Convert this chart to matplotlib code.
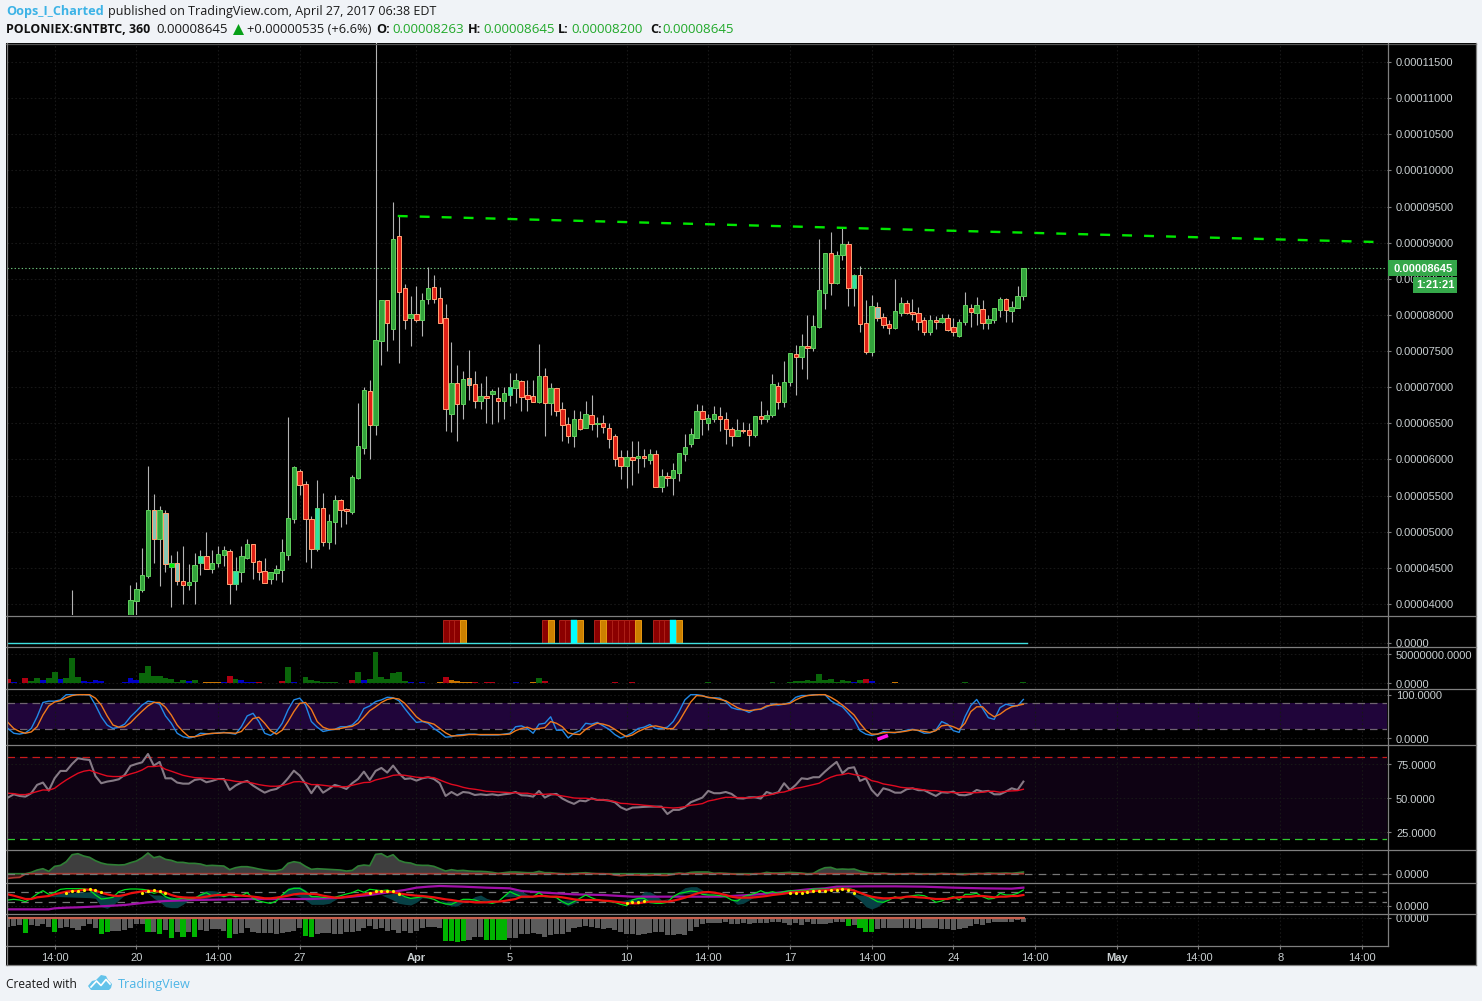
import numpy as np
import matplotlib
matplotlib.use("Agg")
import matplotlib.pyplot as plt
from matplotlib.lines import Line2D
from matplotlib.patches import Rectangle, Polygon
from matplotlib.transforms import Affine2D, ScaledTranslation

W, H = 1482, 1001
plt.rcParams['font.family'] = ['Liberation Sans', 'DejaVu Sans']

# ---------- candles (prices in 1e-8 BTC), first bar is index -11 ----------
candle_first = -11
high = [4190] + [3800]*9 + [4263] + [
 4308,4771,5910,5522,5356,5301,4678,4733,4802,4553,
 4701,4747,4996,4747,4802,4802,4761,4650,4802,4895,
 4826,4609,4632,4443,4540,4895,6583,5910,5868,5702,
 5218,5716,5536,5245,5508,5453,5324,5785,6777,7007,
 7100,11800,8207,8207,9563,9369,8424,8258,8400,8308,
 8659,8553,8382,8151,7621,7307,7220,7515,7220,7062,
 7155,6971,6998,6998,7196,7196,7095,7100,7100,7598,
 7262,7058,6985,6795,6588,6684,6671,6809,6892,6588,
 6615,6500,6352,6131,6131,6255,6255,6145,6145,6131,
 5868,5830,5951,6089,6352,6431,6763,6754,6629,6740,
 6726,6653,6445,6556,6514,6500,6597,6809,6680,7183,
 7072,7362,7473,7584,7736,8000,8000,9051,8857,9148,
 8885,9203,9023,8566,8677,8207,8276,8179,8027,7930,
 8497,8248,8207,8220,8110,7971,7999,7985,8013,8013,
 7958,7944,8317,8151,8248,8207,7999,8096,8248,8234,
 8193,8400,8645]
body_top = [3800] + [3700]*9 + [4055] + [
 4203,4397,5296,5296,5296,5255,4563,4563,4322,4304,
 4535,4660,4660,4563,4688,4743,4729,4452,4660,4826,
 4826,4591,4452,4438,4480,4715,5186,5891,5836,5656,
 5172,5324,5324,5144,5435,5435,5310,5753,6182,6957,
 6943,7649,8202,8202,9047,9088,8368,8009,8009,8202,
 8368,8382,8230,7953,7054,7054,7109,7123,7040,6874,
 6878,6943,6846,6916,6998,7095,7081,6888,6874,7151,
 7151,6985,6985,6694,6487,6556,6556,6625,6611,6500,
 6500,6431,6320,6030,6030,6030,6044,6044,6071,6071,
 5767,5767,5850,6085,6168,6348,6666,6666,6570,6625,
 6597,6556,6417,6404,6408,6404,6597,6597,6611,7040,
 7017,7072,7473,7459,7570,7570,7847,8345,8853,8857,
 8825,8981,8981,8553,8553,7888,8123,8110,7971,7874,
 8054,8165,8165,8040,8027,7930,7930,7930,7958,7958,
 7833,7902,8137,8096,8137,8082,7944,8096,8220,8220,
 8110,8262,8645]
body_bottom = [3650] + [3600]*9 + [3800] + [
 4045,4198,4392,4904,4904,4557,4516,4322,4267,4267,
 4322,4571,4488,4488,4571,4682,4281,4281,4447,4641,
 4585,4447,4295,4350,4433,4475,4682,5180,5651,5172,
 4765,4765,4862,4862,5139,5305,5283,5277,5748,6163,
 6481,6481,7643,7892,7809,8321,7926,7962,7926,7926,
 8225,8225,7892,6694,6625,6772,6772,7035,6813,6813,
 6855,6910,6813,6813,6896,6993,6868,6841,6799,6799,
 6785,6785,6675,6481,6329,6329,6426,6440,6495,6491,
 6453,6287,6010,5914,5914,5997,6024,6024,5997,5623,
 5623,5748,5748,5817,6080,6218,6301,6556,6500,6556,
 6556,6417,6329,6329,6394,6343,6343,6556,6556,6611,
 6795,6795,7072,7418,7418,7542,7542,7833,8303,8442,
 8442,8829,8373,8373,7875,7487,7487,7958,7861,7823,
 7819,8027,8027,8013,7902,7764,7764,7902,7902,7791,
 7764,7708,7902,8041,8027,7888,7888,7930,8068,8068,
 8054,8096,8263]
low = [3600] + [3500]*9 + [3750] + [
 3800,4170,4364,4571,4253,4447,3963,4263,4000,4194,
 4000,4401,4480,4433,4516,4526,4000,4194,4308,4627,
 4346,4332,4290,4277,4332,4308,4609,5125,5508,4581,
 4502,4737,4806,4765,4834,5070,5107,5245,5734,6075,
 6010,6338,7307,7505,7653,7331,7809,7574,7906,7713,
 8155,8169,7885,6398,6384,6260,6564,6823,6716,6702,
 6509,6495,6523,6564,6744,6785,6675,6675,6790,6785,
 6329,6619,6606,6260,6232,6177,6408,6435,6408,6315,
 6370,6163,5914,5734,5609,5651,5817,5900,5937,5615,
 5554,5633,5512,5706,5979,6176,6293,6338,6408,6523,
 6398,6218,6190,6325,6362,6190,6315,6487,6523,6583,
 6698,6726,7017,6892,7252,7113,7501,7819,8082,8276,
 8428,8760,8123,8123,7764,7459,7432,7916,7819,7736,
 7805,7985,8013,7930,7791,7722,7722,7805,7888,7778,
 7708,7695,7861,7833,7861,7805,7805,7888,7971,7902,
 7902,8090,8200]
candle_style = ("ggggggggggg" "gggpgplprg" "gtrgggrtgg" "rrrgggggrr" "rtrggrrggg"
                "rggrgrrgrg" "grrrgrgprg" "rgrgtgrrrg" "rgrrrgrgrg" "rrrrgrgrgr"
                "grgggggrgg" "rrrgrrgrgg" "rggrgrgggr" "ggrtrrgprr" "ggrrrrgrgr"
                "rggrgrgggr" "ggg")
candle_face = {'g': '#33a33c', 'r': '#dd2016', 't': '#2fe0a2', 'p': '#86c4b4', 'l': '#00ee00'}
candle_edge = {'g': '#5fcc5c', 'r': '#ff9f72', 't': '#55cc70', 'p': '#ff9f72', 'l': '#44c850'}

price_ticks = list(range(4000, 12000, 500))
last_price = 8645
trend_bars = [44.8, 212.6]
trend_prices = [9369, 9009]

# ---------- x axis ----------
x_tick_bars = [-14, 0, 14, 28, 48, 64, 84, 98, 112, 126, 140, 154, 168, 182, 196, 210]
x_tick_labels = ['14:00', '20', '14:00', '27', 'Apr', '5', '10', '14:00', '17', '14:00',
                 '24', '14:00', 'May', '14:00', '8', '14:00']

# ---------- signal columns ----------
signal_red = [53, 54, 55, 70, 73, 74, 79, 81, 82, 83, 84, 85, 89, 90, 91]
signal_orange = [56, 71, 76, 80, 86, 93]
signal_cyan = [75, 92]

# ---------- volume (millions) bars -22..152 ----------
volume_m = [6.8,2.3,.6,9.1,4,9.1,5.7,9.1,19.3,6.8,9.1,43.2,10.8,4,2.3,5.7,4,.6,.6,.6,2.3,9.1,
 5.7,17.6,29.5,12.5,12.5,9.1,7.4,2.3,5.7,4,
 5.7,.6,2.3,2.3,2.3,2.3,12.5,7.4,5.7,2.3,
 2.3,2.3,.6,.6,.6,4,27.8,2.3,.6,10.8,
 5.7,4,2.3,2.3,2.3,.6,.6,5.7,19.3,5.7,
 7.4,53.4,10.8,7.4,17.6,19.3,4,2.3,.6,2.3,
 .6,.6,2.3,10.8,5.7,4,2.3,2.3,2.3,.6,
 2.3,2.3,.6,.6,.6,2.3,.6,.6,2.3,9.1,
 4,.6,.4,.6,.6,.6,.4,.6,.6,.6,
 .6,.4,2.3,.6,.6,2.3,.6,.6,.4,.6,
 .6,.4,.6,.6,.6,.6,.6,1.1,2.3,.6,
 .4,.6,.6,.6,.6,.4,.4,.6,.4,2.3,
 .6,.6,2.3,3.4,3.4,5.7,3.4,15.9,5.7,7.4,
 2.3,5.7,4,2.3,5.7,7.4,4,.6,.4,.6,
 2.3,.6,.4,.6,.6,.6,.6,.6,.4,.6,
 .6,.6,2.3,.6,.6,.6,.6,.6,.4,.6,
 .6,.6,2.3]
volume_kind = ("rbbrggbggbgggbbbbbbbbb" "bggggggggb" "gbooobrgbb" "brooorgbbg" "gggggbbrgb"
               "gggggggbbb" "bborooooro" "rrobobooog" "rboooooooo" "ooroorooor"
               "roobbbbggg" "bbggbborbg" "gggggggggg" "gggbgrbooo" "oooobboogo"
               "ooggbgggbg" "ggg")
volume_colors = {'g': '#0a660a', 'b': '#0000c8', 'r': '#b00012', 'o': '#c87400'}

# ---------- stochastic ----------
stoch_k = [22,11,9,12,22,49,82,85,85,88,100,100,100,100,99,76,49,30,22,25,32,49,62,76,85,83,78,51,34,11,3,0,3,11,10,10,12,13,11,9,26,51,57,38,11,6,15,34,65,88,92,76,38,25,15,18,20,26,26,30,43,68,74,84,88,94,93,86,68,51,36,38,34,22,13,2,3,7,8,9,9,7,7,7,7,9,11,26,
 28,22,11,32,34,49,18,18,0,11,17,34,32,36,28,20,8,0,5,12,22,25,31,22,22,25,38,61,88,100,100,98,93,93,92,84,70,66,65,59,66,66,72,78,76,78,82,94,98,98,100,100,100,86,78,72,57,42,17,9,6,9,15,13,12,15,18,20,17,11,12,18,38,32,17,13,49,75,89,68,47,43,70,78,75,74,89]
stoch_d = [36,22,15,11,14,26,53,74,83,86,93,98,100,100,100,92,76,51,30,25,26,35,49,62,74,82,82,71,53,30,15,3,3,6,9,11,11,12,12,11,15,30,45,48,34,17,9,18,38,61,80,82,66,38,25,20,20,22,25,27,34,48,63,72,82,89,92,90,80,65,49,39,36,32,22,12,5,5,6,8,8,8,8,8,8,8,9,17,
 22,25,20,22,24,38,34,26,12,9,8,20,28,34,32,28,20,11,3,7,15,21,26,28,25,21,22,38,61,83,98,97,94,92,89,86,78,70,65,63,65,67,74,76,78,78,80,88,94,98,99,100,100,94,86,76,65,53,34,18,9,9,12,13,13,14,16,19,18,15,13,17,28,30,26,20,34,61,72,72,58,49,55,65,72,75,78]
stoch_extreme_bars = [127, 128.8]
stoch_extreme_vals = [-3, 6]

# ---------- RSI ----------
rsi = [50.5,52.9,51.7,51.2,53.7,59.8,61.5,55.6,64.6,70,70,75.1,79.3,78.5,78,66.3,61,62.2,62.9,63.9,67.1,73.7,75.1,76.3,82.4,73.9,76.6,64.6,64.6,61.5,60.7,60.7,63.4,64.1,61.7,62.7,64.1,64.1,56.1,59.3,61.5,62.7,59.3,56.6,54.1,55.9,56.8,59.8,64.6,70.2,66.6,60.5,53.7,59.8,54.1,56.8,59.8,58.5,56.8,61,64.1,69.5,63.4,70,72.2,68.8,73.9,68.3,64.1,64.6,62.9,64.6,65.4,64.1,61,51.7,54.6,52.2,54.6,54.1,52.4,52.9,52.4,52.9,52.2,52.9,53.4,54.6,
 52.2,52,51.2,55.4,50.5,52.7,53.2,49.8,47.6,45.9,48.3,47.8,50,48.8,48.8,48.3,47.1,43.4,41.5,43.2,43.4,43.7,43.9,43.9,43.9,38.5,41.5,41.5,43.4,47.1,48.8,50.5,55.4,53.7,53.7,54.6,53.2,50,49.8,50.7,50.7,49.8,54.6,53.2,54.4,61,56.1,59.8,64.6,64.1,65.4,65.4,69.5,73.2,76.6,68.3,72,72.7,62.7,64.6,56.1,51.7,57.3,56.1,54.1,54.1,56.6,57.3,55.9,55.9,53.7,51.7,54.4,54.1,54.9,52.4,52.2,53.2,56.1,54.9,55.4,52.9,52.9,54.9,57.3,56.1,62.2]
rsi_ma = [53.7,53.4,52.7,52.7,53.7,54.9,56.1,55.9,57.3,60.5,63.4,65.9,68.3,69.8,70.5,69,67.6,66.3,65.9,65.9,66.3,67.8,69,70.7,73.2,73.2,73.7,71.2,69.8,68.3,66.8,65.9,65.1,64.9,64.6,64.4,63.9,63.7,63.2,62.4,62,62,61,60,59.3,58.8,58.8,59.3,60.5,62,62.2,61.5,60,60,59.5,59,58.5,58.5,58.5,59.5,60.5,61.5,61.7,63.4,64.4,65.4,66.8,67.1,66.8,66.1,65.4,65.1,65.4,65.1,63.4,61.7,60.2,59.3,58,57.1,56.6,55.9,55.1,54.9,54.6,54.4,54.1,54.1,
 53.7,53.7,52.9,52.9,52.9,53.2,52.4,51.7,51,50.2,50,50,49.5,48.8,48.8,48.3,47.6,46.3,46.1,45.6,45.4,44.9,44.6,43.9,43.4,43.2,42.9,43.2,43.9,44.9,45.4,46.1,48,48.8,49.8,50.7,50.7,50.5,50.5,50.2,50.7,51.5,52,52.9,54.1,54.6,55.9,57.3,58,59,60,61,63.4,65.4,66.8,67.3,68.3,67.3,66.6,65.4,62.9,62,60.5,59.8,59,58,57.6,57.3,56.8,56.1,55.6,55.6,54.9,54.6,54.1,54.1,54.4,54.1,54.1,54.4,55.1,55.1,54.4,55.1,55.4,55.6,56.6]

# ---------- momentum ----------
momentum = [-140,-120,-110,-10,40,110,150,70,220,250,360,570,600,530,490,390,320,280,270,260,270,330,
 380,480,620,480,520,430,400,340,340,310,
 310,290,240,250,240,230,120,180,210,210,
 180,140,110,90,90,130,310,360,330,220,
 130,150,140,130,120,110,80,100,230,260,
 240,580,600,500,570,400,340,320,260,250,
 250,220,150,80,120,90,100,80,70,70,
 60,40,10,30,50,50,40,30,30,70,
 30,30,10,0,-20,10,20,30,10,0,
 0,-10,-40,-60,-40,-40,-40,-50,-50,-40,
 -50,-50,-20,20,0,40,50,50,50,10,
 20,10,-10,-20,-20,-30,0,0,40,20,
 20,30,40,30,20,-20,10,110,180,190,
 130,140,130,140,80,40,20,10,20,0,
 -20,-10,0,10,-10,-20,-10,-20,10,0,
 -10,-20,-30,-10,10,0,20,10,10,20,
 10,30,50]

# ---------- oscillator pane ----------
osc_green = [17,19,17,12,22,35,45,34,40,49,51,51,51,51,47,32,20,22,25,42,48,50,
 50,49,47,37,42,27,20,20,22,20,
 22,32,39,29,35,27,32,27,30,39,
 22,14,10,7,14,32,47,52,52,42,
 27,27,25,25,25,30,35,39,47,40,
 49,47,45,47,42,37,27,22,24,27,
 24,19,10,5,4,12,19,19,17,12,
 10,7,12,27,42,34,27,27,27,39,
 27,27,24,12,4,12,22,32,24,17,
 14,12,10,4,0,17,22,22,10,7,
 7,10,27,37,40,44,42,34,32,32,
 30,27,17,14,27,32,37,45,37,42,
 37,42,45,44,46,45,50,50,50,49,
 52,52,52,47,37,32,22,12,10,17,
 27,20,27,30,32,30,22,10,14,22,
 27,17,34,34,37,27,20,22,37,32,
 32,37,47]
osc_red = [34,30,25,20,20,25,27,29,34,38,42,44,45,48,48,45,39,34,30,29,32,37,
 40,43,45,44,42,39,32,27,25,24,
 24,24,27,30,32,32,34,32,30,29,
 27,25,22,22,24,27,30,34,36,36,
 35,34,30,27,24,24,27,29,32,34,
 37,40,42,42,40,37,34,32,30,29,
 27,25,22,19,17,14,12,12,10,10,
 10,12,12,14,17,20,27,27,27,29,
 29,27,27,25,22,19,17,17,17,17,
 15,14,12,10,7,7,7,10,12,12,
 12,12,15,19,24,30,36,40,41,39,
 36,32,27,24,24,24,25,27,29,32,
 34,36,39,40,42,42,44,45,46,47,
 49,50,49,45,39,32,27,24,22,22,
 24,24,27,27,25,24,22,20,20,20,
 24,25,27,27,29,29,27,25,27,27,
 29,29,32]
purple_bars = [-22,-15,-14,-12,-10,-5,-2,2,5,10,20,30,35,40,44,46,48,50,52,56,60,64,66,70,75,80,85,90,95,100,105,110,115,118,120,125,130,135,140,145,150,152]
purple_vals = [-11,-11,-8,-6,-5,-1,2,10,14,17,20,20,24,32,42,47,54,57,59,57,54,52,44,39,34,32,27,27,27,27,32,39,49,52,57,58,58,57,54,52,51,54]
cloud_bars = [-15,-13,-8,-7,-6,-5,-4,-3,-2,2,3,4,5,6,7,8,9,10,11,12,13,14,15,25,26,27,28,29,30,31,32,33,34,35,42,44,45,46,47,48,49,52,53,54,55,56,57,58,59,60,61,62,63,64,65,66,67,68,72,73,74,75,76,82,85,86,87,88,89,90,92,93,94,95,96,97,98,102,103,104,105,106,108,122,124,125,126,127,128,129]
cloud_top = [27,37,42,42,32,27,27,32,32,37,32,32,27,27,22,22,22,27,37,45,45,42,27,32,54,57,57,47,32,27,25,27,27,27,32,37,37,27,24,27,27,17,12,12,12,17,17,27,32,22,17,17,32,47,47,44,34,27,22,17,17,17,17,10,22,24,42,42,32,17,24,42,54,57,57,47,37,17,22,27,32,32,32,42,32,32,27,22,22,22]
cloud_bottom = [27,27,24,22,-3,-8,2,17,32,37,22,12,-3,-6,-6,4,17,22,22,22,27,27,27,32,32,32,27,17,4,4,4,7,17,27,32,17,7,4,2,10,24,17,4,-1,-1,10,17,17,17,14,14,17,27,27,27,24,24,27,22,7,0,7,17,10,10,12,14,7,10,12,24,32,37,37,37,37,37,17,4,7,17,27,32,42,17,-3,-10,-3,10,22]
dot_bars = [-12,-11,-10,-9,-8,-7,-6,1,2,3,4,5,40,41,42,43,44,45,84,85,86,87,112,113,114,115,116,117,118,119,120,121,122,123]
dot_vals = [39,43,45,47,49,47,41,39,44,46,44,39,39,44,44,44,44,35,8,10,10,13,39,39,39,40,44,44,44,47,47,49,47,39]

# ---------- histogram ----------
hist = [-27,-23,-20,-43,-21,-23,-18,-26,-40,-28,-25,-30,-35,-22,-18,-28,-46,-42,-38,-38,-36,-30,
 -18,-16,-40,-40,-46,-35,-58,-42,-55,-42,
 -55,-36,-38,-32,-33,-38,-58,-48,-45,-30,
 -42,-44,-44,-44,-46,-45,-42,-38,-28,-52,
 -55,-48,-45,-45,-47,-47,-42,-42,-38,-28,
 -24,-32,-30,-38,-36,-44,-38,-44,-38,-30,
 -25,-25,-28,-68,-68,-71,-68,-64,-56,-57,
 -65,-65,-65,-65,-58,-58,-48,-48,-45,-48,
 -55,-50,-48,-48,-42,-30,-27,-24,-27,-28,
 -32,-28,-34,-42,-48,-48,-50,-46,-44,-42,
 -42,-50,-50,-48,-50,-37,-25,-18,-13,-13,
 -15,-12,-17,-17,-15,-16,-13,-14,-13,-10,
 -11,-13,-19,-15,-20,-12,-18,-17,-18,-15,
 -10,-10,-22,-20,-30,-40,-40,-32,-30,-30,
 -30,-30,-28,-30,-32,-30,-30,-30,-32,-32,
 -35,-32,-28,-22,-18,-20,-13,-12,-10,-10,
 -12,-6,-12]
hist_green_bars = [-19,-14,-6,-5,2,4,6,8,10,16,29,30,53,54,55,56,60,61,62,63,122,124,125,126]

# ---------- layout helpers (pixel geometry of the page) ----------
fig = plt.figure(figsize=(W/100, H/100), dpi=100, facecolor='#f0f3f7')
px = Affine2D().scale(1, -1).translate(0, H)
BORDER = '#7f7f7f'
LABEL = '#c8ced0'
GRID = '#171717'
bars = np.arange(-22, 153)
BAR_PX = 5.836
X0 = 136.3
L_PX, R_PX = 6.5, 1387.0
xlim = ((L_PX - X0)/BAR_PX, (R_PX - X0)/BAR_PX)

fig.add_artist(Rectangle((6, 43), 1470, 922, transform=px, fc='black', ec='none', zorder=-5))

def pane(top, bottom, ylim, yticks, ylabels, label_shift=0.0):
    ax = fig.add_axes([L_PX/W, 1-bottom/H, (R_PX-L_PX)/W, (bottom-top)/H], facecolor='black')
    ax.set_xlim(*xlim)
    ax.set_ylim(*ylim)
    for s in ax.spines.values():
        s.set_visible(False)
    ax.yaxis.tick_right()
    ax.set_yticks(yticks)
    ax.set_yticklabels(ylabels)
    ax.set_xticks(x_tick_bars)
    ax.tick_params(axis='y', length=3, width=0.8, color=BORDER, labelcolor=LABEL,
                   labelsize=8, pad=3.5)
    ax.tick_params(axis='x', bottom=False, labelbottom=False)
    ax.grid(True, color=GRID, lw=0.8, ls=(0, (1.5, 2)))
    ax.set_axisbelow(True)
    if label_shift:
        off = ScaledTranslation(0, -label_shift/100, fig.dpi_scale_trans)
        for lab in ax.get_yticklabels():
            lab.set_transform(lab.get_transform() + off)
    return ax

# ---------- main price pane ----------
ax = pane(43, 615, (3848, 11763), price_ticks, [f"{p/1e8:.8f}" for p in price_ticks])
cx = np.arange(candle_first, candle_first + len(high))
ax.vlines(cx, low, high, color='#b4b4b4', lw=0.8, zorder=2)
tops = np.array(body_top); bots = np.array(body_bottom)
ax.bar(cx, tops-bots, bottom=bots, width=0.76,
       color=[candle_face[s] for s in candle_style],
       edgecolor=[candle_edge[s] for s in candle_style], linewidth=0.72, zorder=3)
ax.axhline(last_price, color='#6cc07a', lw=0.8, ls=(0, (1.2, 2)), zorder=1)
ax.plot(trend_bars, trend_prices, color='#00e800', lw=1.7, ls=(0, (4.2, 5.1)), zorder=4)

# ---------- signal columns ----------
ax = pane(615, 646, (-0.116, 1.21), [0], ['0.0000'])
ax.bar(signal_red, [1]*len(signal_red), width=1, color='#8b0000', edgecolor='#ad2018', lw=0.7)
ax.bar(signal_orange, [1]*len(signal_orange), width=1, color='#cc8000', edgecolor='#e89810', lw=0.7)
ax.bar(signal_cyan, [1]*len(signal_cyan), width=1, color='#00ffff', edgecolor='#00ffff', lw=0.3)
ax.plot([bars[0], bars[-1]+0.6], [0, 0], color='#3fe0e0', lw=1.0)

# ---------- volume ----------
ax = pane(646, 688, (-8e6, 63.6e6), [0, 5e7], ['0.0000', '50000000.0000'], label_shift=0.8)
ax.bar(bars, np.array(volume_m)*1e6, width=1.0, color=[volume_colors[k] for k in volume_kind], lw=0)

# ---------- stochastic ----------
ax = pane(688, 744, (-13.8, 115.4), [0, 100], ['0.0000', '100.0000'], label_shift=0.8)
ax.axhspan(20, 80, color='#20053a', lw=0, zorder=0.5)
for lvl in (20, 80):
    ax.axhline(lvl, color='#6f6470', lw=0.9, ls=(0, (6, 4)), zorder=1)
ax.plot(bars, stoch_k, color='#2288e6', lw=1.0, zorder=3)
ax.plot(bars, stoch_d, color='#f07a1c', lw=1.0, zorder=3)
ax.plot(stoch_extreme_bars, stoch_extreme_vals, color='#ff10e8', lw=2.6, zorder=4, solid_capstyle='butt')

# ---------- RSI ----------
ax = pane(744, 849, (12.9, 89.7), [25, 50, 75], ['25.0000', '50.0000', '75.0000'], label_shift=0.8)
ax.axhspan(20, 80, color='#0e0213', lw=0, zorder=0.5)
ax.axhline(80, color='#c81a1a', lw=0.9, ls=(0, (6, 4)), zorder=1)
ax.axhline(20, color='#30c830', lw=0.9, ls=(0, (6, 4)), zorder=1)
ax.plot(bars, rsi, color='#857a85', lw=1.5, zorder=3)
ax.plot(bars, rsi_ma, color='#e00a20', lw=1.0, zorder=4)

# ---------- momentum ----------
ax = pane(849, 882, (-249, 741), [0], ['0.0000'])
mom = np.array(momentum, float)
ax.fill_between(bars, 0, mom, where=mom >= -20, color='#3e3e3e', lw=0, zorder=1)
ax.fill_between(bars, 0, mom, where=mom <= 20, color='#3a1414', lw=0, zorder=1)
ax.plot(bars, np.maximum(mom, 0), color='#2f7f35', lw=1.2, zorder=3)
ax.plot(bars, np.minimum(mom, 0), color='#a83a32', lw=1.2, zorder=3)
ax.axhline(0, color='#777777', lw=0.9, ls=(0, (6, 5)), zorder=4)

# ---------- oscillator ----------
ax = pane(882, 913.5, (-23.5, 71), [0], ['0.0000'])
for lvl in (10, 40):
    ax.axhline(lvl, color='#777777', lw=0.9, ls=(0, (6, 5)), zorder=1)
ax.fill_between(cloud_bars, cloud_bottom, cloud_top, color='#074045', lw=0, zorder=1.5)
ax.plot(purple_bars, purple_vals, color='#a010a8', lw=1.6, zorder=2)
ax.plot(bars, osc_green, color='#00e020', lw=0.9, zorder=3)
ax.plot(bars, osc_red, color='#ee1010', lw=1.6, zorder=4)
ax.plot(dot_bars, dot_vals, ls='none', marker='o', ms=2.3, color='#ffee00', mew=0, zorder=5)

# ---------- histogram + x axis ----------
ax = pane(913.5, 945, (-80, 14.5), [0], ['0.0000'])
hist_colors = ['#00b400' if b in hist_green_bars else '#5c5c5c' for b in bars]
ax.bar(bars, hist, width=0.88, color=hist_colors, lw=0, zorder=2)
ax.plot([bars[0]-0.3, bars[-1]+0.3], [1, 1], color='#c8604e', lw=1.6, zorder=3, solid_capstyle='butt')
ax.tick_params(axis='x', bottom=True, labelbottom=True, length=3, width=0.8, color=BORDER,
               labelcolor=LABEL, labelsize=8, pad=3)
ax.set_xticklabels(x_tick_labels)
for lab, txt in zip(ax.get_xticklabels(), x_tick_labels):
    if txt in ('Apr', 'May'):
        lab.set_fontweight('bold')

# ---------- separators ----------
def hline(y, x0=6, x1=1476, color=BORDER, lw=0.9):
    fig.add_artist(Line2D([x0, x1], [y, y], transform=px, color=color, lw=lw, zorder=5))
for y in (615.5, 646.5, 688.5, 744.5, 849.5, 882.5, 913.5):
    hline(y)
hline(945.5, x1=1387.5)
hline(43.5, color='#555555')
fig.add_artist(Line2D([1387.5, 1387.5], [43, 945.5], transform=px, color=BORDER, lw=0.9, zorder=5))
fig.add_artist(Line2D([6.5, 6.5], [43, 965], transform=px, color=BORDER, lw=0.9, zorder=5))
fig.add_artist(Line2D([1475.5, 1475.5], [43, 965], transform=px, color=BORDER, lw=0.9, zorder=5))
hline(965, color=BORDER)

# ---------- price tags ----------
TAG = '#35a84a'
fig.add_artist(Rectangle((1387.5, 260), 69.5, 16, transform=px, fc=TAG, ec='none', zorder=6))
fig.add_artist(Rectangle((1413, 277), 44, 15.5, transform=px, fc=TAG, ec='none', zorder=6))
def ptext(x, y, s, **kw):
    return fig.text(x/W, 1-y/H, s, va='center', ha=kw.pop('ha', 'left'), zorder=7, **kw)
ptext(1394, 268.5, f"{last_price/1e8:.8f}", color='white', fontsize=8, fontweight='bold')
ptext(1416, 285, "1:21:21", color='white', fontsize=8, fontweight='bold')

# ---------- header / footer ----------
HF = ['Open Sans', 'DejaVu Sans']
BLUE = '#3cb3e6'
GREEN = '#22a92b'
ROW1, ROW2 = 11.8, 29.8
ptext(6, ROW1, "Oops_I_Charted", color=BLUE, fontsize=9.1, family=HF, fontweight='bold')
ptext(107.5, ROW1, "published on TradingView.com, April 27, 2017 06:38 EDT", color='#1a1a1a', fontsize=8.98, family=HF)
ptext(6, ROW2, "POLONIEX:GNTBTC, 360", color='#111111', fontsize=8.9, family=HF, fontweight='bold')
ptext(156, ROW2, f"{last_price/1e8:.8f}", color='#1a1a1a', fontsize=9.6, family=HF)
fig.add_artist(Polygon([(233, 35), (244, 35), (238.5, 24)], closed=True, transform=px, fc='#08a018', ec='none'))
ptext(247, ROW2, "+0.00000535 (+6.6%)", color='#1a1a1a', fontsize=9.3, family=HF)
for lx, vx, lab, val in [(376, 392, "O:", "0.00008263"), (468, 483, "H:", "0.00008645"),
                         (558, 571, "L:", "0.00008200"), (650, 662, "C:", "0.00008645")]:
    ptext(lx, ROW2, lab, color='#111111', fontsize=9.1, family=HF, fontweight='bold')
    ptext(vx, ROW2, val, color=GREEN, fontsize=9.6, family=HF)
ptext(6, 984.3, "Created with", color='#1a1a1a', fontsize=8.66, family=HF)
ptext(118, 984.3, "TradingView", color='#4db5e6', fontsize=9.1, family=HF)
fig.add_artist(Polygon([(88, 986), (92, 981), (96, 980), (101, 975), (106, 976), (108, 980),
                        (112, 984), (111, 988), (109, 990), (91, 990)], closed=True,
                       transform=px, fc='#64c3ea', ec='none'))
fig.add_artist(Line2D([91, 96.5, 101, 106, 110], [987, 981, 985.5, 979.5, 984], transform=px,
                      color='white', lw=1.2))

fig.savefig('out.png', dpi=100, facecolor=fig.get_facecolor())
